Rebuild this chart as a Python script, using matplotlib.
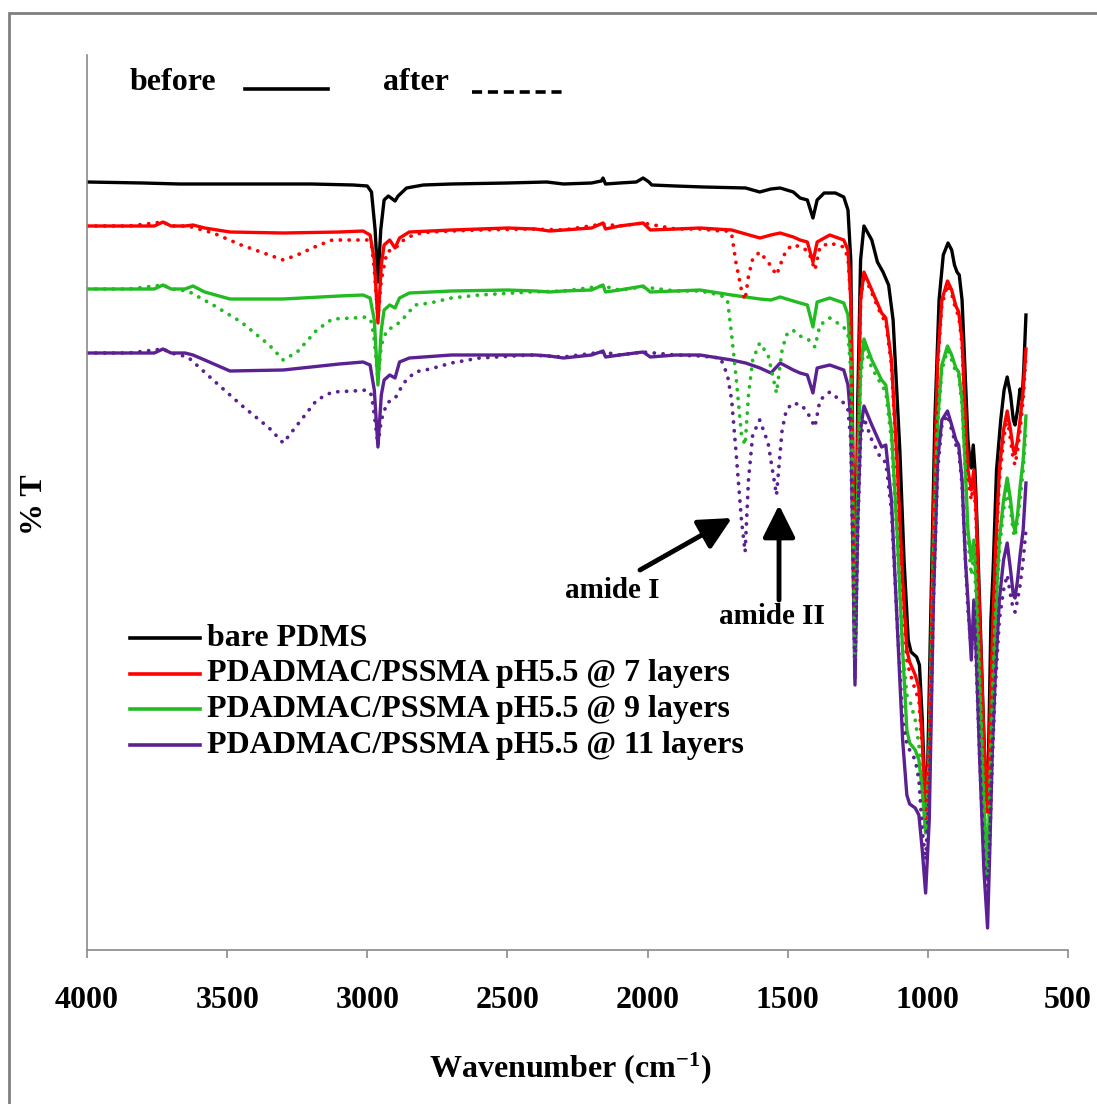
import matplotlib
matplotlib.use("Agg")
import matplotlib.pyplot as plt
from matplotlib.lines import Line2D
from matplotlib.patches import Rectangle

plt.rcParams['font.family'] = ['Liberation Serif', 'DejaVu Serif']
plt.rcParams['font.weight'] = 'bold'
plt.rcParams['mathtext.fontset'] = 'custom'
plt.rcParams['mathtext.rm'] = 'Liberation Serif:bold'
plt.rcParams['mathtext.it'] = 'Liberation Serif:bold'
plt.rcParams['mathtext.bf'] = 'Liberation Serif:bold'

# ---- data (wavenumber in cm-1, %T in arbitrary offset units) ----
wn_black = [4000, 3800, 3670, 3500, 3200, 3050, 3000, 2985, 2972, 2962,
            2952, 2940, 2925, 2915, 2901, 2890, 2860, 2800, 2700, 2500,
            2360, 2300, 2200, 2165, 2159, 2150, 2100, 2040, 2016, 1995,
            1985, 1900, 1800, 1650, 1600, 1560, 1527, 1480, 1456, 1430,
            1410, 1395, 1370, 1330, 1300, 1285, 1275, 1268, 1260, 1250,
            1240, 1228, 1200, 1180, 1160, 1140, 1124, 1100, 1085, 1070,
            1060, 1040, 1030, 1020, 1008, 1000, 990, 975, 960, 945,
            928, 915, 905, 896, 888, 878, 866, 857, 850, 845,
            838, 832, 825, 810, 795, 787, 780, 775, 767, 755,
            740, 728, 717, 705, 695, 689, 680, 671, 664, 658,
            650]
t_black = [81.8, 81.7, 81.6, 81.6, 81.6, 81.5, 81.4, 80.8, 77.0, 71.8,
           77.0, 80.0, 80.4, 80.2, 79.9, 80.4, 81.2, 81.5, 81.6, 81.7,
           81.8, 81.6, 81.7, 81.9, 82.2, 81.6, 81.7, 81.8, 82.2, 81.8,
           81.5, 81.4, 81.3, 81.2, 80.8, 81.1, 81.2, 80.8, 80.2, 80.0,
           78.2, 80.0, 80.7, 80.7, 80.3, 79.0, 74.0, 55.0, 36.0, 60.0,
           74.0, 77.4, 76.0, 73.8, 72.8, 71.5, 68.0, 55.0, 44.0, 36.0,
           34.8, 34.3, 33.5, 28.0, 18.8, 24.0, 38.0, 58.0, 70.0, 74.5,
           75.7, 75.0, 73.5, 72.8, 72.5, 70.0, 62.0, 56.0, 54.0, 53.2,
           55.5, 53.0, 48.0, 35.0, 22.0, 19.5, 30.0, 38.0, 43.1, 53.0,
           58.0, 61.0, 62.3, 60.5, 58.0, 57.5, 59.0, 61.1, 60.0, 63.0,
           68.5]

wn_solid = [4000, 3850, 3760, 3729, 3700, 3650, 3622, 3580, 3490, 3300,
            3100, 3015, 2990, 2975, 2962, 2950, 2940, 2920, 2901, 2885,
            2850, 2700, 2500, 2400, 2350, 2300, 2200, 2159, 2150, 2100,
            2016, 1990, 1900, 1813, 1700, 1650, 1599, 1560, 1527, 1480,
            1456, 1430, 1410, 1395, 1350, 1300, 1285, 1275, 1260, 1250,
            1240, 1228, 1200, 1165, 1150, 1130, 1110, 1090, 1075, 1065,
            1045, 1032, 1020, 1008, 995, 980, 965, 950, 930, 915,
            900, 890, 878, 866, 857, 845, 836, 828, 815, 800,
            787, 780, 770, 760, 745, 730, 717, 705, 695, 689,
            680, 671, 660, 650]
t_red = [77.4, 77.4, 77.4, 77.8, 77.4, 77.4, 77.5, 77.2, 76.8, 76.7,
         76.8, 76.9, 76.5, 74.0, 67.7, 73.5, 75.5, 76.0, 75.2, 76.2,
         76.8, 77.0, 77.2, 77.1, 76.9, 77.0, 77.2, 77.7, 77.1, 77.4,
         77.7, 77.0, 77.1, 77.2, 77.0, 76.6, 76.2, 76.5, 76.7, 76.3,
         76.0, 75.8, 73.8, 75.8, 76.5, 76.0, 75.0, 70.0, 34.5, 55.0,
         70.0, 72.8, 71.0, 68.7, 68.2, 64.0, 54.0, 42.0, 35.0, 33.8,
         32.5, 31.2, 26.0, 18.0, 26.0, 48.0, 64.0, 70.0, 71.9, 71.0,
         69.4, 68.8, 66.0, 58.0, 53.0, 51.0, 53.0, 49.0, 38.0, 26.0,
         19.0, 26.0, 36.0, 44.0, 53.0, 57.0, 58.9, 57.0, 55.0, 54.6,
         56.0, 58.0, 61.0, 65.1]
t_green = [71.1, 71.1, 71.1, 71.5, 71.1, 71.1, 71.4, 70.8, 70.1, 70.1,
           70.4, 70.5, 70.2, 68.0, 61.5, 67.0, 69.0, 69.5, 69.2, 70.2,
           70.7, 70.9, 71.0, 70.9, 70.8, 70.9, 71.0, 71.5, 70.8, 71.0,
           71.4, 70.8, 70.9, 71.0, 70.5, 70.3, 70.1, 70.0, 70.3, 69.9,
           69.7, 69.5, 67.3, 69.8, 70.2, 69.7, 68.5, 64.0, 33.0, 52.0,
           63.0, 66.1, 64.0, 62.0, 61.5, 57.0, 47.0, 35.0, 27.0, 25.7,
           25.0, 24.0, 21.0, 16.7, 24.0, 44.0, 58.0, 63.5, 65.4, 64.5,
           63.2, 62.8, 60.0, 53.0, 47.0, 44.0, 46.0, 42.0, 32.0, 20.0,
           12.2, 20.0, 30.0, 38.0, 46.0, 50.0, 52.2, 50.0, 47.5, 46.9,
           48.5, 51.3, 54.0, 58.4]
t_purple = [64.7, 64.7, 64.7, 65.1, 64.7, 64.7, 64.5, 64.0, 62.9, 63.0,
            63.6, 63.8, 63.5, 61.0, 55.3, 60.5, 62.0, 62.5, 62.2, 63.8,
            64.2, 64.5, 64.5, 64.5, 64.4, 64.2, 64.5, 64.9, 64.3, 64.5,
            64.8, 64.3, 64.5, 64.5, 64.0, 63.7, 63.2, 62.7, 63.7, 63.0,
            62.7, 62.5, 60.7, 63.2, 63.5, 63.0, 61.5, 58.0, 31.5, 48.0,
            57.0, 59.4, 57.5, 55.3, 55.5, 50.0, 38.0, 26.0, 20.5, 19.6,
            19.2, 18.5, 15.0, 10.7, 18.0, 40.0, 54.0, 58.0, 58.9, 57.5,
            56.0, 55.5, 52.0, 44.0, 40.0, 34.0, 40.0, 35.0, 24.0, 13.0,
            7.2, 14.0, 24.9, 32.0, 40.0, 44.0, 45.7, 43.0, 40.5, 40.2,
            42.0, 44.5, 47.0, 51.7]

wn_dot = [4000, 3850, 3729, 3700, 3640, 3550, 3450, 3350, 3300, 3250,
          3180, 3125, 3050, 3000, 2985, 2975, 2962, 2950, 2930, 2900,
          2870, 2830, 2776, 2700, 2600, 2420, 2300, 2159, 2100, 2016,
          1900, 1813, 1740, 1715, 1700, 1685, 1665, 1652, 1640, 1625,
          1600, 1570, 1540, 1520, 1505, 1482, 1450, 1425, 1403, 1385,
          1350, 1300, 1285, 1275, 1260, 1250, 1240, 1228, 1200, 1165,
          1150, 1130, 1110, 1090, 1075, 1065, 1045, 1032, 1020, 1008,
          995, 980, 965, 950, 930, 915, 900, 890, 878, 866,
          857, 845, 836, 828, 815, 800, 787, 780, 770, 760,
          745, 730, 717, 705, 695, 689, 680, 671, 660, 650]
t_red_after = [77.4, 77.4, 77.8, 77.4, 77.4, 76.7, 75.5, 74.5, 74.0, 74.5,
               75.4, 76.0, 76.0, 76.0, 75.5, 73.0, 68.2, 72.0, 74.8, 75.2,
               76.0, 76.6, 76.8, 76.9, 77.0, 77.1, 77.0, 77.6, 77.4, 77.7,
               77.1, 77.1, 76.9, 76.9, 76.6, 73.8, 71.0, 70.0, 72.4, 74.1,
               74.8, 73.8, 72.5, 74.0, 75.0, 75.5, 75.3, 74.8, 73.0, 75.3,
               75.7, 75.3, 74.2, 70.0, 35.0, 54.0, 70.0, 72.5, 70.7, 68.4,
               67.8, 63.5, 53.0, 41.0, 34.0, 32.8, 31.0, 30.0, 25.0, 17.8,
               25.5, 47.5, 63.5, 69.5, 71.5, 70.6, 69.0, 68.4, 65.5, 57.5,
               52.0, 50.0, 52.0, 48.0, 37.0, 25.0, 18.5, 25.5, 35.0, 43.0,
               52.0, 56.0, 58.2, 56.0, 54.0, 53.5, 55.0, 57.0, 60.0, 64.5]
t_green_after = [71.1, 71.1, 71.5, 71.1, 70.9, 69.5, 67.8, 65.5, 64.0, 64.8,
                 67.0, 68.1, 68.2, 68.3, 67.8, 66.0, 62.0, 65.5, 67.0, 67.4,
                 68.2, 69.5, 69.7, 70.2, 70.5, 70.8, 70.9, 71.4, 71.0, 71.3,
                 70.9, 70.9, 70.5, 70.0, 66.5, 62.5, 56.5, 55.5, 60.5, 64.0,
                 65.7, 64.5, 60.7, 65.0, 66.5, 67.0, 66.3, 66.0, 65.3, 67.5,
                 68.2, 67.3, 66.5, 63.0, 34.0, 51.0, 62.0, 65.5, 63.2, 61.5,
                 60.8, 56.0, 46.0, 35.0, 30.5, 30.0, 28.0, 25.5, 21.0, 16.7,
                 23.5, 43.5, 57.5, 63.0, 65.0, 64.0, 62.8, 62.4, 59.5, 52.5,
                 46.0, 42.5, 44.5, 40.5, 31.0, 19.5, 12.5, 19.5, 29.5, 37.0,
                 45.0, 49.0, 51.0, 49.0, 46.8, 46.3, 48.0, 50.0, 53.0, 57.0]
t_purple_after = [64.7, 64.7, 65.1, 64.7, 64.3, 62.0, 59.5, 57.2, 55.7, 57.5,
                  60.0, 60.8, 60.9, 61.0, 60.5, 58.5, 55.5, 58.0, 59.7, 60.2,
                  61.7, 62.8, 63.1, 63.7, 64.2, 64.5, 64.3, 64.8, 64.5, 64.8,
                  64.5, 64.4, 64.2, 62.5, 60.0, 55.0, 48.0, 44.8, 52.0, 56.5,
                  58.0, 55.7, 50.5, 57.0, 59.0, 59.7, 59.5, 58.5, 57.3, 60.0,
                  60.8, 59.7, 59.0, 56.0, 32.0, 47.0, 56.0, 58.2, 56.0, 54.0,
                  53.8, 49.0, 38.0, 28.0, 25.5, 25.0, 24.0, 22.0, 17.0, 14.0,
                  21.0, 40.0, 53.0, 57.5, 58.5, 57.0, 55.5, 55.0, 51.5, 44.0,
                  39.0, 35.0, 38.0, 34.0, 24.0, 14.0, 11.3, 15.0, 24.0, 31.0,
                  38.0, 41.0, 42.5, 40.5, 39.0, 38.8, 40.0, 41.5, 44.0, 47.0]

labels = ['bare PDMS',
          'PDADMAC/PSSMA pH5.5 @ 7 layers',
          'PDADMAC/PSSMA pH5.5 @ 9 layers',
          'PDADMAC/PSSMA pH5.5 @ 11 layers']
colors = ['black', '#ff0000', '#22bb22', '#5b2192']

W, H = 1097, 1104
fig = plt.figure(figsize=(W / 100, H / 100), dpi=100)
ax = fig.add_axes([87 / W, 1 - 950 / H, (1068 - 87) / W, (950 - 55) / H])

# solid = before, dotted = after
solid = [(wn_black, t_black), (wn_solid, t_red), (wn_solid, t_green), (wn_solid, t_purple)]
for (x, y), c in zip(solid, colors):
    ax.plot(x, y, color=c, lw=2.4, solid_joinstyle='round')

dotted = [t_red_after, t_green_after, t_purple_after]
for y, c in zip(dotted, colors[1:]):
    ax.plot(wn_dot, y, color=c, lw=2.7, linestyle=(0, (0.05, 2.3)),
            dash_capstyle='round')

ax.set_xlim(4000, 500)
ax.set_ylim(5, 94.5)
ax.set_xticks(range(4000, 499, -500))
ax.set_yticks([])
for s in ['top', 'right']:
    ax.spines[s].set_visible(False)
for s in ['left', 'bottom']:
    ax.spines[s].set_color('#8a8a8a')
    ax.spines[s].set_linewidth(1.2)
ax.tick_params(axis='x', direction='out', length=6, width=1.2, color='#8a8a8a',
               pad=20, labelsize=23)
for lab in ax.get_xticklabels():
    lab.set_fontweight('bold')

fig.text(570 / W, 1 - 1068 / H, r'Wavenumber (cm$^{-1}$)', fontsize=23,
         fontweight='bold', ha='center', va='center')
fig.text(35 / W, 1 - 505 / H, '% T', fontsize=23, fontweight='bold',
         rotation=90, ha='center', va='center')

# annotations
ax.annotate('', xy=(1699, 48.2), xytext=(2027, 43.0),
            arrowprops=dict(arrowstyle='-|>,head_length=0.9,head_width=0.45',
                            lw=3.5, color='black', mutation_scale=22,
                            shrinkA=0, shrinkB=0))
ax.annotate('', xy=(1531, 49.5), xytext=(1531, 40.0),
            arrowprops=dict(arrowstyle='-|>,head_length=0.9,head_width=0.45',
                            lw=3.5, color='black', mutation_scale=22,
                            shrinkA=0, shrinkB=0))
ax.text(2127, 41.0, 'amide I', fontsize=21, fontweight='bold', ha='center', va='center')
ax.text(1556, 38.3, 'amide II', fontsize=21, fontweight='bold', ha='center', va='center')

# legend drawn by hand
for i, (lab, c) in enumerate(zip(labels, colors)):
    yy = 1 - (638 + i * 35.7) / H
    fig.add_artist(Line2D([130 / W, 200 / W], [yy, yy], color=c, lw=2.6))
    fig.text(207 / W, yy, lab, fontsize=23, fontweight='bold', va='center')

# before / after key
fig.text(130 / W, 1 - 83 / H, 'before', fontsize=23, fontweight='bold', va='center')
fig.add_artist(Line2D([245 / W, 328 / W], [1 - 89 / H] * 2, color='black', lw=2.6))
fig.text(383 / W, 1 - 83 / H, 'after', fontsize=23, fontweight='bold', va='center')
fig.add_artist(Line2D([472 / W, 567 / W], [1 - 92 / H] * 2, color='black', lw=2.6,
                      linestyle=(0, (2.8, 1.6))))

# outer frame
fig.add_artist(Rectangle((9 / W, -0.05), 1.2, 1.05 - 13 / H, transform=fig.transFigure,
                         fill=False, edgecolor='#808080', lw=2))

fig.savefig('out.png', dpi=100)
